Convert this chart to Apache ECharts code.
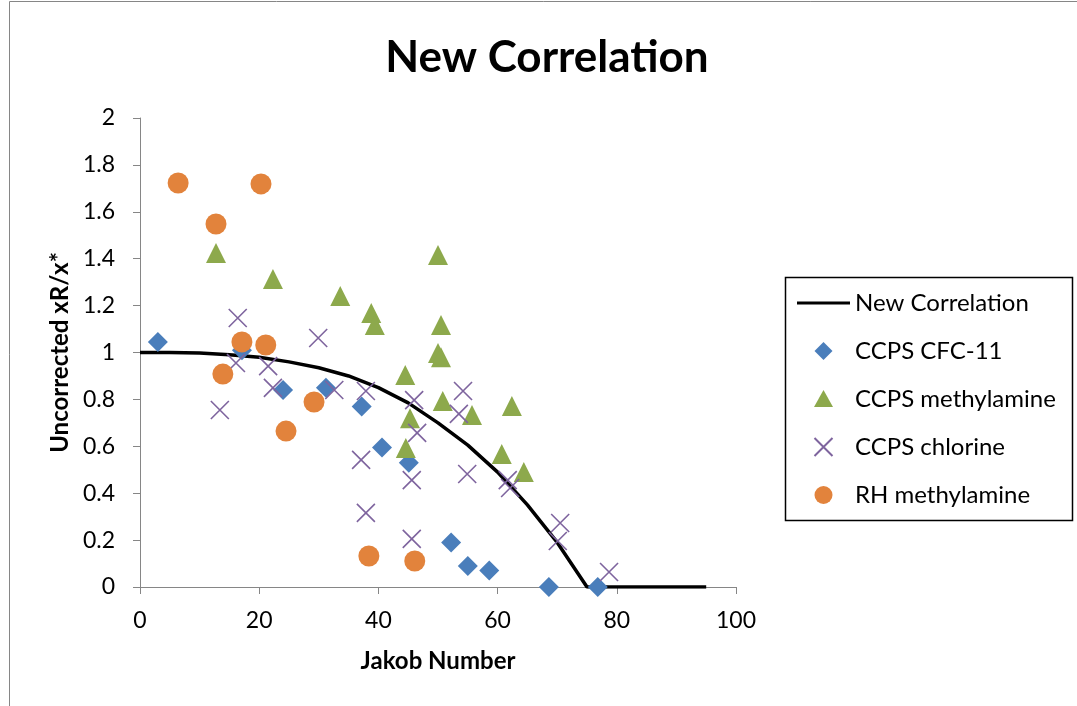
<!DOCTYPE html>
<html>
<head>
<meta charset="utf-8">
<script src="https://cdn.jsdelivr.net/npm/echarts@6/dist/echarts.min.js"></script>
<style>html,body{margin:0;padding:0;background:#fff;}#c{width:1077px;height:706px;}</style>
</head>
<body>
<div id="c"></div>
<script>
// Correlation curve
var corrX = [0, 5, 10, 15, 20, 25, 30, 35, 40, 45, 50, 55, 60, 65, 70, 75, 80, 85, 90, 95];
var corrY = [1.0, 1.0, 0.998, 0.99, 0.98, 0.96, 0.935, 0.90, 0.85, 0.785, 0.70, 0.605, 0.49, 0.35, 0.19, 0.0, 0.0, 0.0, 0.0, 0.0];

// CCPS CFC-11
var cfcX = [3.0, 17.1, 24.0, 31.2, 37.2, 40.6, 45.1, 52.2, 55.0, 58.6, 68.6, 76.8];
var cfcY = [1.045, 1.01, 0.84, 0.85, 0.77, 0.595, 0.53, 0.19, 0.09, 0.07, 0.0, 0.0];

// CCPS methylamine
var cmaX = [12.75, 22.3, 33.6, 38.8, 39.4, 50.0, 50.5, 50.0, 50.5, 44.5, 50.8, 45.3, 55.7, 62.4, 44.6, 60.7, 64.4];
var cmaY = [1.424, 1.313, 1.241, 1.168, 1.117, 1.416, 1.117, 0.998, 0.98, 0.904, 0.793, 0.72, 0.733, 0.772, 0.593, 0.567, 0.49];

// CCPS chlorine
var clX = [16.4, 13.4, 16.1, 21.5, 22.3, 29.9, 32.6, 37.9, 46.0, 54.2, 53.5, 46.5, 37.1, 45.6, 54.9, 61.7, 62.1, 37.9, 45.6, 70.5, 70.1, 78.7];
var clY = [1.147, 0.755, 0.955, 0.942, 0.849, 1.062, 0.84, 0.836, 0.797, 0.836, 0.738, 0.657, 0.542, 0.456, 0.482, 0.456, 0.422, 0.316, 0.205, 0.273, 0.196, 0.064];

// RH methylamine
var rhX = [6.4, 12.75, 20.3, 17.1, 21.1, 13.9, 29.2, 24.5, 38.4, 46.1];
var rhY = [1.723, 1.548, 1.719, 1.045, 1.032, 0.908, 0.789, 0.665, 0.132, 0.111];

var seriesNames = ['New Correlation', 'CCPS CFC-11', 'CCPS methylamine', 'CCPS chlorine', 'RH methylamine'];
var xTicks = {min: 0, max: 100, interval: 20};
var yTicks = {min: 0, max: 2, interval: 0.2};

function pairs(xs, ys) { return xs.map(function (x, i) { return [x, ys[i]]; }); }

var FONT = 'Lato';
var axisGray = '#868686';
var colors = {line: '#000000', cfc: '#4A7EBB', cma: '#8DA94C', cl: '#7E649E', rh: '#E2833C'};

var chart = echarts.init(document.getElementById('c'), null, {renderer: 'canvas'});
chart.setOption({
  backgroundColor: '#ffffff',
  animation: false,
  title: {
    text: 'New Correlation',
    left: 542, top: 31, textAlign: 'center',
    textStyle: {fontFamily: FONT, fontWeight: 'bold', fontSize: 44, color: '#000'}
  },
  grid: {left: 140, top: 118, width: 596, height: 469, containLabel: false},
  xAxis: {
    type: 'value', min: xTicks.min, max: xTicks.max, interval: xTicks.interval,
    name: 'Jakob Number', nameLocation: 'middle', nameGap: 62,
    nameTextStyle: {fontFamily: FONT, fontWeight: 'bold', fontSize: 24, color: '#000'},
    axisLine: {show: true, lineStyle: {color: axisGray, width: 1}},
    axisTick: {show: true, length: 7, lineStyle: {color: axisGray}},
    axisLabel: {fontFamily: FONT, fontSize: 23, color: '#000', margin: 22},
    splitLine: {show: false}
  },
  yAxis: {
    type: 'value', min: yTicks.min, max: yTicks.max, interval: yTicks.interval,
    name: 'Uncorrected xR/x*', nameLocation: 'middle', nameGap: 64,
    nameTextStyle: {fontFamily: FONT, fontWeight: 'bold', fontSize: 24, color: '#000'},
    axisLine: {show: true, lineStyle: {color: axisGray, width: 1}},
    axisTick: {show: true, length: 7, lineStyle: {color: axisGray}},
    axisLabel: {fontFamily: FONT, fontSize: 23, color: '#000', margin: 25,
      formatter: function (v) { return String(Math.round(v * 10) / 10); }},
    splitLine: {show: false}
  },
  legend: {
    orient: 'vertical', left: 797, top: 291, padding: 0,
    itemWidth: 53, itemHeight: 18, itemGap: 24,
    textStyle: {fontFamily: FONT, fontSize: 24, color: '#000'},
    data: [
      {name: seriesNames[0], icon: 'path://M0,0M53,18M0,7.6L53,7.6L53,10.4L0,10.4Z', itemStyle: {color: colors.line}},
      {name: seriesNames[1], icon: 'path://M0,0M53,18M26.5,0L35.5,9L26.5,18L17.5,9Z'},
      {name: seriesNames[2], icon: 'path://M0,0M53,18M26.5,0L36,17L17,17Z'},
      {name: seriesNames[3]},
      {name: seriesNames[4]}
    ]
  },
  graphic: [
    {type: 'rect', shape: {x: 9.5, y: 1.5, width: 1200, height: 800}, style: {fill: 'none', stroke: axisGray, lineWidth: 1}, z: -10, silent: true},
    {type: 'rect', shape: {x: 785.5, y: 277.5, width: 287, height: 243}, style: {fill: 'none', stroke: '#000', lineWidth: 1.5}, z: -5, silent: true}
  ],
  series: [
    {
      name: seriesNames[0], type: 'line', data: pairs(corrX, corrY),
      showSymbol: false, symbol: 'none', smooth: false,
      lineStyle: {color: colors.line, width: 3.5}, itemStyle: {color: colors.line}, z: 1
    },
    {
      name: seriesNames[1], type: 'scatter', data: pairs(cfcX, cfcY),
      symbol: 'diamond', symbolSize: 20, itemStyle: {color: colors.cfc, opacity: 1}, z: 2
    },
    {
      name: seriesNames[2], type: 'scatter', data: pairs(cmaX, cmaY),
      symbol: 'triangle', symbolSize: 20, itemStyle: {color: colors.cma, opacity: 1}, z: 3
    },
    {
      name: seriesNames[3], type: 'scatter', data: pairs(clX, clY),
      symbol: 'path://M0,0L20,20M20,0L0,20', symbolSize: 18,
      itemStyle: {color: 'transparent', borderColor: colors.cl, borderWidth: 1.6, opacity: 1}, z: 4
    },
    {
      name: seriesNames[4], type: 'scatter', data: pairs(rhX, rhY),
      symbol: 'circle', symbolSize: 21, itemStyle: {color: colors.rh, opacity: 1}, z: 5
    }
  ]
});
</script>
</body>
</html>
